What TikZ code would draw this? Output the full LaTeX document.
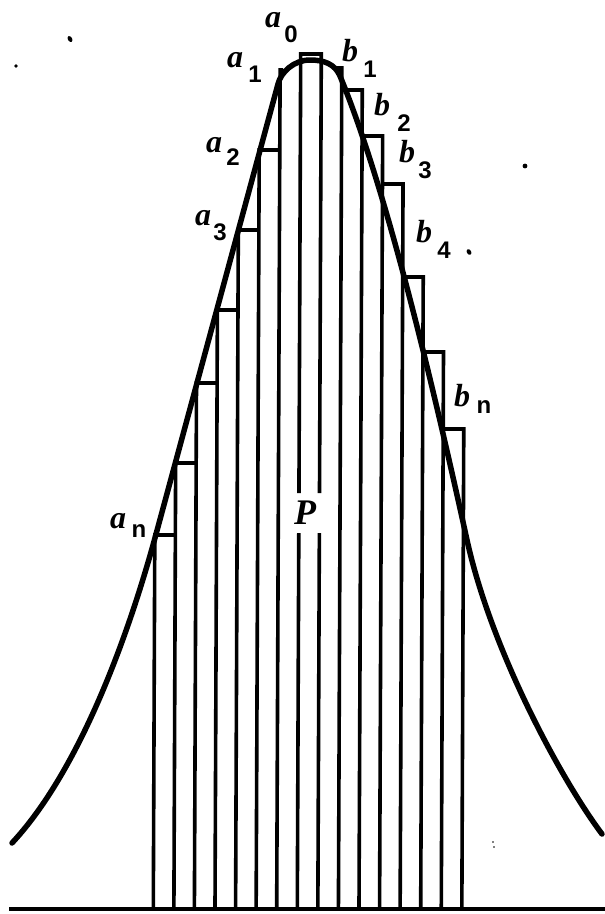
\documentclass[tikz,border=0pt]{standalone}
\usepackage{fontspec}
\setmainfont{Liberation Serif}
\newfontfamily\subfont{Liberation Sans}
\begin{document}
\begin{tikzpicture}[x=1pt,y=-1pt,
  bell/.style={line width=5.5pt, line cap=round, line join=round},
  barline/.style={line width=3.6pt, line join=miter},
  axisline/.style={line width=4pt},
  lbl/.style={inner sep=0pt, font=\fontsize{32}{34}\selectfont\bfseries\itshape},
  sublbl/.style={inner sep=0pt, font=\fontsize{24}{26}\selectfont\subfont\bfseries},
  speck/.style={fill=black, draw=none}]
\useasboundingbox (0,0) rectangle (605,914);

% baseline
\coordinate (L) at (9,909);
\coordinate (R) at (605,909);
\draw[axisline] (L) -- (R);

% left (inscribed) bars
\draw[barline] (153.3,908) -- (154.8,535) -- (175.4,535);
\draw[barline] (173.9,908) -- (175.65,463) -- (196.2,463);
\draw[barline] (194.4,908) -- (196.5,383) -- (217.1,383);
\draw[barline] (215.0,908) -- (217.4,310) -- (238.0,310);
\draw[barline] (235.6,908) -- (238.3,230) -- (258.9,230);
\draw[barline] (256.15,908) -- (259.2,150) -- (279.75,150);
\draw[barline] (276.7,908) -- (280.1,70) -- (283,70);
% central bar, broken around P
\draw[barline] (298.95,493) -- (300.7,54) -- (321.3,54) -- (319.5,493);
\draw[barline] (297.3,908) -- (298.8,533);
\draw[barline] (317.86,908) -- (319.36,533);
% right (circumscribed) bars
\draw[barline] (335,68) -- (341.8,68) -- (338.43,908);
\draw[barline] (341.7,90) -- (362.27,90) -- (359,908);
\draw[barline] (362.1,136) -- (382.66,136) -- (379.57,908);
\draw[barline] (382.47,184) -- (403.04,184) -- (400.14,908);
\draw[barline] (402.66,277) -- (423.23,277) -- (420.71,908);
\draw[barline] (422.93,352) -- (443.5,352) -- (441.28,908);
\draw[barline] (443.2,429) -- (463.77,429) -- (461.85,908);

% bell curve
\draw[bell] (12,843) .. controls (80,770) and (128.6,635) .. (155.8,535)
  -- (278,84) .. controls (281,72) and (294,60) .. (310,60)
  .. controls (324,60) and (335,64) .. (340,76)
  .. controls (389,194) and (438.4,410) .. (467,540)
  .. controls (491.2,650) and (560.75,779) .. (602,834);

% labels
\node[lbl] (a0) at (273,20) {a};  \node[sublbl] (a0s) at (291,34) {0};
\node[lbl] (a1) at (235,60) {a};  \node[sublbl] (a1s) at (255,74) {1};
\node[lbl] (a2) at (214,145) {a}; \node[sublbl] (a2s) at (233,157) {2};
\node[lbl] (a3) at (203,218) {a}; \node[sublbl] (a3s) at (220,232) {3};
\node[lbl] (an) at (118,521) {a}; \node[sublbl] (ans) at (139,531) {n};
\node[lbl] (b1) at (350,51) {b};  \node[sublbl] (b1s) at (370,69) {1};
\node[lbl] (b2) at (382,105) {b}; \node[sublbl] (b2s) at (404,123) {2};
\node[lbl] (b3) at (407,152) {b}; \node[sublbl] (b3s) at (425,170) {3};
\node[lbl] (b4) at (424,232) {b}; \node[sublbl] (b4s) at (444,250) {4};
\node[lbl] (bn) at (462,396) {b}; \node[sublbl] (bns) at (484,407) {n};
\node[lbl, font=\fontsize{36}{38}\selectfont\bfseries\itshape] (P) at (305,513) {P};

% stray specks of the printed original
\fill[speck, rotate around={-60:(70,39)}] (70,39) ellipse (3.2pt and 2.2pt);
\fill[speck] (16,66) circle (1.8pt);
\fill[speck] (525,166) circle (2.4pt);
\fill[speck, rotate around={-60:(469,252)}] (469,252) ellipse (3pt and 2.2pt);
\fill[speck] (493,842) circle (0.9pt);
\fill[speck] (494,847) circle (0.9pt);
\end{tikzpicture}
\end{document}
